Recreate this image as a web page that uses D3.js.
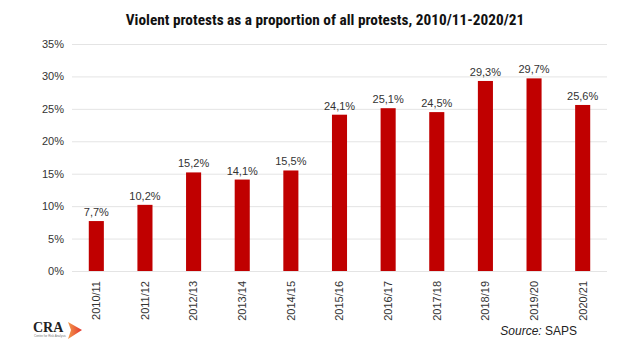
<!DOCTYPE html>
<html><head><meta charset="utf-8">
<script src="https://cdn.jsdelivr.net/npm/d3@7"></script>
<style>body{margin:0;background:#fff}svg{display:block}</style>
</head><body>
<svg id="c" width="623" height="356"></svg>
<script>
const categories = ["2010/11","2011/12","2012/13","2013/14","2014/15","2015/16","2016/17","2017/18","2018/19","2019/20","2020/21"];
const values = [7.7,10.2,15.2,14.1,15.5,24.1,25.1,24.5,29.3,29.7,25.6];
const yTicks = [0,5,10,15,20,25,30,35];
const title = "Violent protests as a proportion of all protests, 2010/11-2020/21";

(function(){
const svg = d3.select("#c");
const mL = 72, mR = 607, mT = 44, mB = 271;
const x = d3.scaleBand().domain(categories).range([mL, mR]).paddingInner(0.69).paddingOuter(0.345);
const y = d3.scaleLinear().domain([0,35]).range([mB, mT]);
const fmt = v => String(v).replace(".", ",") + "%";

svg.append("text").attr("x", 325).attr("y", 25).attr("text-anchor","middle")
  .style("font-family","'Liberation Sans Narrow','Roboto Condensed',sans-serif")
  .style("font-weight","bold").style("font-size","15.3px").attr("fill","#111").text(title);

const ya = svg.append("g").attr("transform",`translate(${mL},0)`)
  .call(d3.axisLeft(y).tickValues(yTicks).tickSize(-(mR-mL)).tickFormat(d => d + "%"));
ya.select(".domain").remove();
ya.selectAll(".tick line").attr("stroke","#e4e4e4");
ya.selectAll(".tick text").attr("x",-8).attr("fill","#333")
  .style("font-family","'Liberation Sans','Arial',sans-serif").style("font-size","11px");

svg.selectAll("rect.bar").data(values).join("rect").attr("class","bar")
  .attr("x",(d,i)=>x(categories[i])).attr("width",x.bandwidth())
  .attr("y",d=>y(d)).attr("height",d=>mB-y(d)).attr("fill","#c00000");

svg.selectAll("text.val").data(values).join("text").attr("class","val")
  .attr("x",(d,i)=>x(categories[i])+x.bandwidth()/2).attr("y",d=>y(d)-5)
  .attr("text-anchor","middle").attr("fill","#333")
  .style("font-family","'Liberation Sans','Arial',sans-serif").style("font-size","11px")
  .text(fmt);

const xa = svg.append("g").attr("transform",`translate(0,${mB})`)
  .call(d3.axisBottom(x).tickSize(0));
xa.select(".domain").remove();
xa.selectAll(".tick text").attr("transform","rotate(-90)").attr("text-anchor","end")
  .attr("x",-10).attr("y",0).attr("dy","0.35em").attr("fill","#333")
  .style("font-family","'Liberation Sans','Arial',sans-serif").style("font-size","11px");

const defs = svg.append("defs");
const grad = defs.append("linearGradient").attr("id","lg").attr("x1","0").attr("x2","1").attr("y1","0").attr("y2","0");
grad.append("stop").attr("offset","0").attr("stop-color","#f39a4a");
grad.append("stop").attr("offset","1").attr("stop-color","#e3342f");
const logo = svg.append("g");
logo.append("text").attr("x",33).attr("y",332).style("font-family","'Liberation Serif','DejaVu Serif',serif")
  .style("font-weight","bold").style("font-size","14px").attr("fill","#222").text("CRA");
logo.append("path").attr("d","M68,322 L82,330 L68,339 L71,330 Z").attr("fill","url(#lg)");
logo.append("text").attr("x",34).attr("y",337).style("font-family","sans-serif").style("font-size","3px").attr("fill","#777").text("Centre for Risk Analysis");

const src = svg.append("text").attr("x",577).attr("y",335).attr("text-anchor","end")
  .style("font-family","'Liberation Sans','Arial',sans-serif").style("font-size","12px").attr("fill","#222");
src.append("tspan").style("font-style","italic").text("Source: ");
src.append("tspan").text("SAPS");
})();
</script>
</body></html>
